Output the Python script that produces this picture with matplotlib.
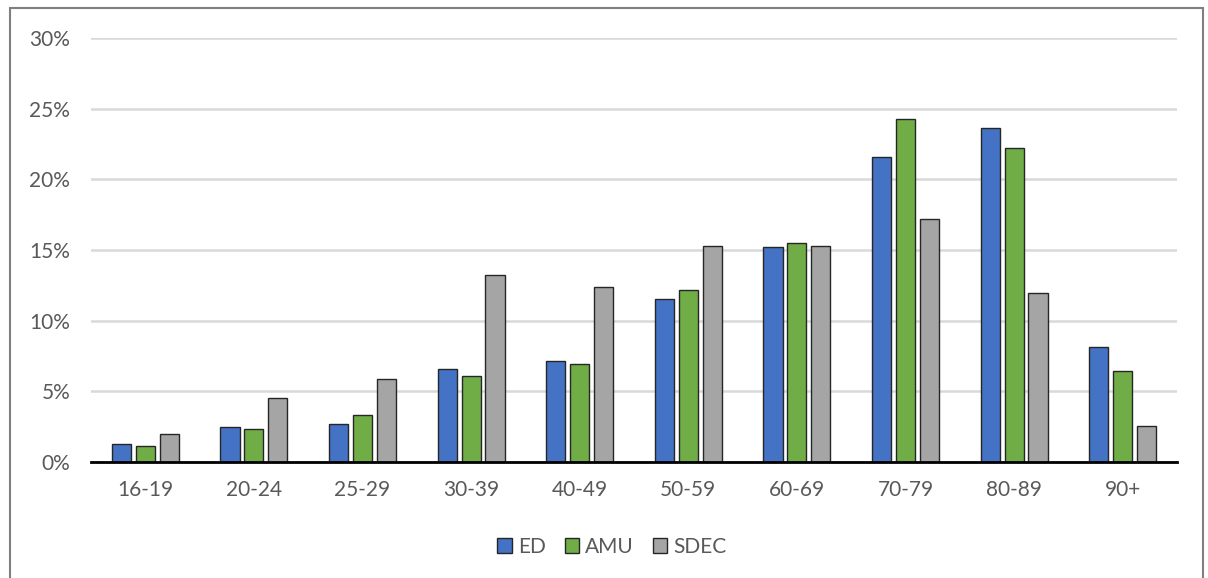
import numpy as np
import matplotlib
matplotlib.use("Agg")
from matplotlib import pyplot as plt
from matplotlib.patches import Rectangle
from matplotlib.ticker import FuncFormatter

# age groups and share of attendances per setting
ages = ["16-19", "20-24", "25-29", "30-39", "40-49", "50-59", "60-69", "70-79", "80-89", "90+"]
ed = [1.25, 2.5, 2.69, 6.6, 7.15, 11.55, 15.2, 21.6, 23.65, 8.17]
amu = [1.1, 2.34, 3.3, 6.05, 6.95, 12.15, 15.5, 24.3, 22.2, 6.47]
sdec = [1.96, 4.53, 5.9, 13.25, 12.4, 15.3, 15.3, 17.2, 11.95, 2.57]

plt.rcParams['font.family'] = ['Lato', 'DejaVu Sans']
txt = '#595959'

fig = plt.figure(figsize=(12.08, 5.78), dpi=100)
ax = fig.add_axes([91/1208, 116/578, (1177-91)/1208, (462-38)/578])

x = np.arange(len(ages))
w = 0.176
step = 0.22
series = [("ED", ed, '#4472C4'), ("AMU", amu, '#70AD47'), ("SDEC", sdec, '#A5A5A5')]
for i, (name, vals, col) in enumerate(series):
    ax.bar(x + (i - 1) * step, np.array(vals) / 100, w, color=col,
           edgecolor='#262626', linewidth=1.0, label=name, zorder=3)

ax.set_xlim(-0.5, len(ages) - 0.5)
ax.set_ylim(0, 0.30)
ax.set_yticks(np.arange(0, 0.301, 0.05))
ax.yaxis.set_major_formatter(FuncFormatter(lambda v, p: f"{v*100:.0f}%"))
ax.set_xticks(x)
ax.set_xticklabels(ages)
ax.grid(axis='y', color='#D9D9D9', linewidth=1.8, zorder=0)
for s in ['top', 'right', 'left']:
    ax.spines[s].set_visible(False)
ax.spines['bottom'].set_color('black')
ax.spines['bottom'].set_linewidth(2)
ax.spines['bottom'].set_zorder(4)
ax.tick_params(axis='both', length=0, labelsize=15, colors=txt)
ax.tick_params(axis='x', pad=13)
ax.tick_params(axis='y', pad=15)

leg = fig.legend(loc='center', bbox_to_anchor=(612/1208, 1 - 547/578), ncol=3,
                 frameon=False, fontsize=15, handlelength=0.7, handleheight=0.7,
                 handletextpad=0.3, columnspacing=0.9)
for t in leg.get_texts():
    t.set_color(txt)

fig.patches.append(Rectangle((10/1208, -0.01), (1203-10)/1208, 1 - 8/578 + 0.01,
                             transform=fig.transFigure, fill=False,
                             edgecolor='#7F7F7F', linewidth=1.5))

fig.savefig('out.png', dpi=100)
